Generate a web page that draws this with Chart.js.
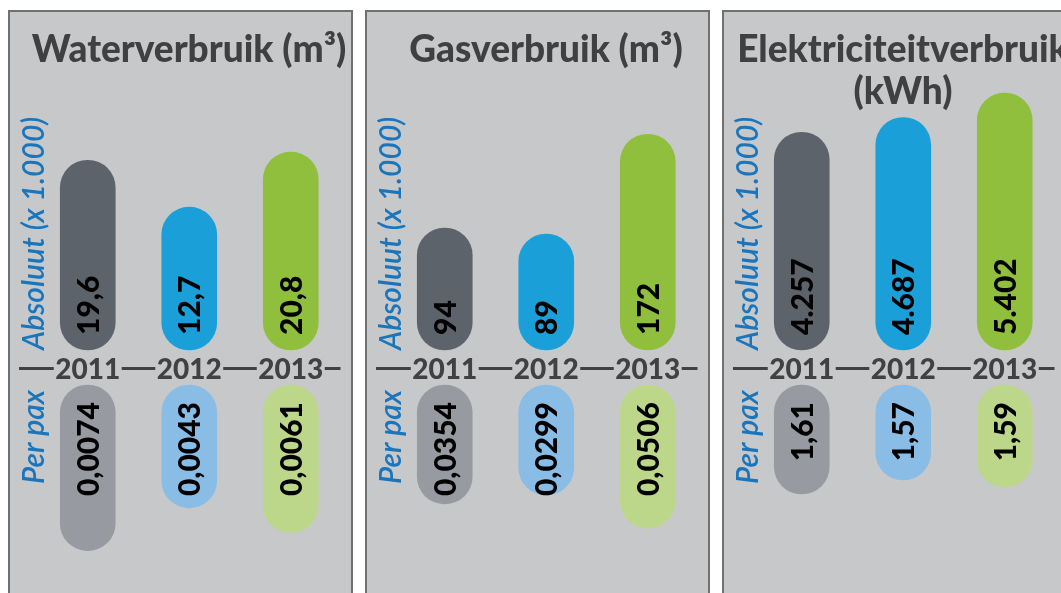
<!DOCTYPE html>
<html>
<head>
<meta charset="utf-8">
<script src="https://cdn.jsdelivr.net/npm/chart.js@4/dist/chart.umd.min.js"></script>
<style>
  body { margin: 0; background: #fff; width: 1061px; height: 593px; overflow: hidden; position: relative; font-family: Lato, sans-serif; }
  .panel { position: absolute; top: 10px; width: 345px; height: 600px; box-sizing: border-box; border: 2px solid #6f7072; background: #c7c8ca; overflow: hidden; }
  .panel h2 { position: absolute; left: 0; top: 15px; width: 358px; margin: 0; text-align: center; font: 900 37px/42px Lato, sans-serif; color: #404041; z-index: 2; }
  .panel .wrap { position: absolute; left: 0; top: 0; width: 341px; height: 581px; }
</style>
</head>
<body>
<div class="panel" style="left:8px"><h2 id="t1"></h2><div class="wrap"><canvas id="c1"></canvas></div></div>
<div class="panel" style="left:365px"><h2 id="t2"></h2><div class="wrap"><canvas id="c2"></canvas></div></div>
<div class="panel" style="left:722px"><h2 id="t3"></h2><div class="wrap"><canvas id="c3"></canvas></div></div>
<script>
const years = ['2011', '2012', '2013'];
const titles = ['Waterverbruik (m³)', 'Gasverbruik (m³)', 'Elektriciteitverbruik (kWh)'];
const absLabel = 'Absoluut (x 1.000)';
const paxLabel = 'Per pax';

const waterAbs = [19.6, 12.7, 20.8];
const waterPax = [0.0074, 0.0043, 0.0061];
const gasAbs = [94, 89, 172];
const gasPax = [0.0354, 0.0299, 0.0506];
const elecAbs = [4257, 4687, 5402];
const elecPax = [1.61, 1.57, 1.59];

const absColors = ['#5d636b', '#1b9fd9', '#8fbf3c'];
const paxColors = ['#979aa0', '#8abde6', '#bcd78a'];
const bg = '#c7c8ca';
const dark = '#414042';
const blue = '#1b75bb';

// the original bars are not strictly proportional, so each axis gets its own base and px per unit
const H = 581, UP_BASE = 338, DOWN_BASE = 373;

function upRange(s) {
    return { min: s.base - (H - UP_BASE) / s.k, max: s.base + UP_BASE / s.k };
}
function downRange(s) {
    return { min: s.base - DOWN_BASE / s.k, max: s.base + (H - DOWN_BASE) / s.k };
}

function fmt(v) {
    if (v >= 1000) return String(v).replace(/(\d)(\d{3})$/, '$1.$2');
    return String(v).replace('.', ',');
}

const panelText = {
    id: 'panelText',
    afterDatasetsDraw(chart) {
        let ctx = chart.ctx;
        let area = chart.chartArea;
        let sets = chart.data.datasets;
        let top = chart.scales.yAbs.getPixelForValue(sets[0].base);
        let bot = chart.scales.yPax.getPixelForValue(sets[1].base);
        let lineY = (top + bot) / 2 + 1;
        ctx.save();

        // values inside the bars
        ctx.font = '900 30px Lato';
        ctx.fillStyle = '#000';
        ctx.textBaseline = 'alphabetic';
        sets.forEach((ds, di) => {
            chart.getDatasetMeta(di).data.forEach((bar, i) => {
                ctx.save();
                ctx.translate(bar.x + 11, di === 0 ? bar.base - 15 : bar.base + 17);
                ctx.rotate(-Math.PI / 2);
                ctx.textAlign = di === 0 ? 'left' : 'right';
                ctx.fillText(fmt(ds.data[i]), 0, 0);
                ctx.restore();
            });
        });

        // year row
        ctx.strokeStyle = dark;
        ctx.lineWidth = 3;
        ctx.beginPath();
        ctx.moveTo(area.left - 18, lineY);
        ctx.lineTo(area.right - 1, lineY);
        ctx.stroke();
        ctx.font = '900 28px Lato';
        ctx.textAlign = 'center';
        chart.data.labels.forEach((lab, i) => {
            let x = chart.scales.x.getPixelForValue(i);
            let w = ctx.measureText(lab).width + 3;
            ctx.fillStyle = bg;
            ctx.fillRect(x - w / 2, lineY - 14, w, 28);
            ctx.fillStyle = dark;
            ctx.fillText(lab, x, lineY + 10);
        });

        // side labels
        ctx.font = 'italic 600 30px Lato';
        ctx.fillStyle = blue;
        ctx.save();
        ctx.translate(area.left + 7, top);
        ctx.rotate(-Math.PI / 2);
        ctx.textAlign = 'left';
        ctx.fillText(absLabel, 0, 0);
        ctx.restore();
        ctx.save();
        ctx.translate(area.left + 7, bot + 5);
        ctx.rotate(-Math.PI / 2);
        ctx.textAlign = 'right';
        ctx.fillText(paxLabel, 0, 0);
        ctx.restore();

        ctx.restore();
    }
};

function makePanel(n, abs, pax, absScale, paxScale) {
    document.getElementById('t' + n).textContent = titles[n - 1];
    let bar = { grouped: false, barThickness: 55, borderRadius: 28, borderSkipped: false };
    new Chart(document.getElementById('c' + n), {
        type: 'bar',
        data: {
            labels: years,
            datasets: [
                Object.assign({ data: abs, base: absScale.base, yAxisID: 'yAbs', backgroundColor: absColors }, bar),
                Object.assign({ data: pax, base: paxScale.base, yAxisID: 'yPax', backgroundColor: paxColors }, bar)
            ]
        },
        options: {
            responsive: true,
            maintainAspectRatio: false,
            animation: false,
            layout: { padding: { left: 27, right: 9.5, top: 0, bottom: 0 } },
            plugins: { legend: { display: false }, tooltip: { enabled: false } },
            scales: {
                x: { display: false },
                yAbs: Object.assign({ type: 'linear', display: false }, upRange(absScale)),
                yPax: Object.assign({ type: 'linear', display: false, reverse: true }, downRange(paxScale))
            }
        },
        plugins: [panelText]
    });
}

makePanel(1, waterAbs, waterPax, { base: -8.3, k: 6.8 }, { base: -0.004617, k: 13776 });
makePanel(2, gasAbs, gasPax, { base: -7.7, k: 1.2 }, { base: -0.03903, k: 1597 });
makePanel(3, elecAbs, elecPax, { base: -2090, k: 0.0343 }, { base: 1.2986, k: 350 });
</script>
</body>
</html>
